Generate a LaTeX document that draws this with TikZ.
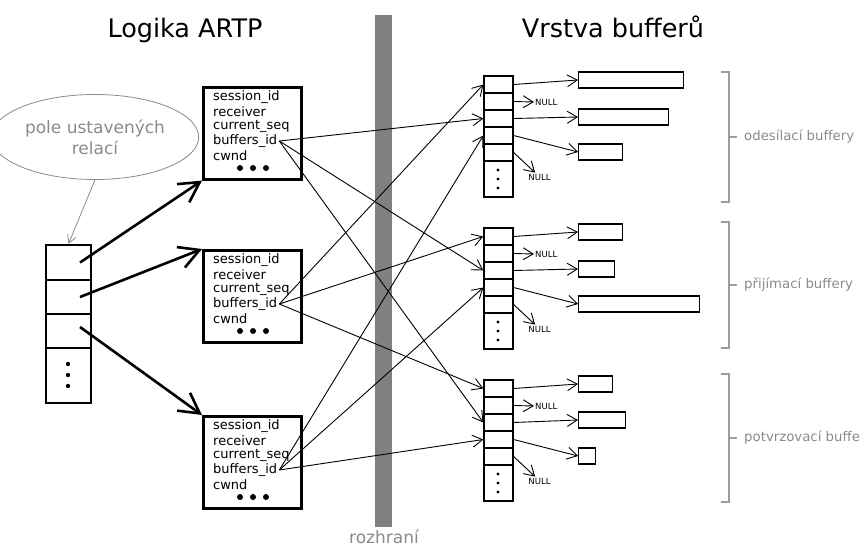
\documentclass[tikz,border=0pt]{standalone}
\usepackage{fontspec}
\setmainfont{DejaVu Sans}
\usetikzlibrary{arrows.meta,shapes.geometric}

\definecolor{bargray}{HTML}{808080}
\definecolor{notegray}{HTML}{8A8A8A}

\tikzset{
  thickcell/.style={draw,line width=2.4pt,minimum width=45pt,inner sep=0pt},
  sessbox/.style={draw,line width=2.6pt,minimum width=98pt,minimum height=92pt,inner sep=0pt},
  field/.style={anchor=west,inner sep=0pt,font=\fontsize{13}{13}\selectfont},
  bufcell/.style={draw,line width=1.3pt,minimum width=29pt,inner sep=0pt},
  datarect/.style={draw,line width=1.2pt,inner sep=0pt,anchor=west},
  nulltxt/.style={inner sep=1pt,font=\fontsize{8.5}{8.5}\selectfont},
  bigarrow/.style={line width=2.6pt,-{Straight Barb[length=20pt,width=22pt,line width=2.6pt]}},
  thinarrow/.style={line width=0.9pt,-{Straight Barb[length=10pt,width=12pt,line width=0.9pt]}},
  grayarrow/.style={draw=notegray,line width=0.8pt,-{Straight Barb[length=8pt,width=9pt,line width=0.8pt]}},
  bracket/.style={draw=notegray!85,line width=1.1pt},
  bracketlabel/.style={anchor=west,text=notegray,inner sep=0pt,font=\fontsize{13.3}{13.3}\selectfont},
  title/.style={anchor=base,inner sep=0pt,font=\fontsize{25.5}{25.5}\selectfont},
  dotfill/.style={fill=black}
}

\begin{document}
\begin{tikzpicture}[x=1pt,y=-1pt]
\useasboundingbox (0,0) rectangle (859,546);
\clip (0,0) rectangle (859,546);

% headings
\node[title] (hleft) at (185,37) {Logika ARTP};
\node[title] (hright) at (613,37) {Vrstva bufferů};

% interface bar
\fill[bargray] (375,15) rectangle (392,527);
\node[anchor=base,text=notegray,inner sep=0pt,font=\fontsize{17}{17}\selectfont] (iface) at (384,543) {rozhraní};

% note ellipse
\node[ellipse,draw=notegray,line width=0.8pt,minimum width=174pt,minimum height=85pt,
      align=center,text=notegray,font=\fontsize{17}{21}\selectfont] (note) at (95,137)
      {pole ustavených\\relací};

% array of established sessions
\node[thickcell,minimum height=35pt] (c1) at (68.5,262.5) {};
\node[thickcell,minimum height=34pt] (c2) at (68.5,297) {};
\node[thickcell,minimum height=34pt] (c3) at (68.5,331) {};
\node[thickcell,minimum height=55pt] (c4) at (68.5,375.5) {};
\foreach \yy in {364,375,386} \fill[dotfill] (68,\yy) circle (2.2);

\draw[grayarrow] (note.south) -- (c1.north);

% session records
\foreach \i/\top in {1/86,2/249,3/415} {
  \node[sessbox,anchor=north west] (b\i) at (202,\top) {};
  \node[field] (b\i sid) at (213,\top+11.5) {session\_id};
  \node[field] (b\i rcv) at (213,\top+26) {receiver};
  \node[field] (b\i seq) at (213,\top+40.5) {current\_seq};
  \node[field] (b\i buf) at (213,\top+55) {buffers\_id};
  \node[field] (b\i cw) at (213,\top+69.5) {cwnd};
  \foreach \xx in {240,253,266} \fill[dotfill] (\xx,\top+82) circle (3);
}

\draw[bigarrow] ([xshift=11.5pt]c1.center) -- (b1.south west);
\draw[bigarrow] ([xshift=11.5pt]c2.center) -- (b2.north west);
\draw[bigarrow] ([shift={(11.5,-4)}]c3.center) -- (b3.north west);

% buffer arrays
\foreach \k/\top in {1/76,2/228,3/380} {
  \foreach \j in {1,...,5} {
    \node[bufcell,minimum height=17pt] (a\k c\j) at (498.5,\top+17*\j-8.5) {};
  }
  \node[bufcell,minimum height=36pt] (a\k c6) at (498.5,\top+85+18) {};
  \foreach \dd in {-9,0,9} \fill[dotfill] (498,\top+103+\dd) circle (1.7);
  \node[nulltxt,anchor=west] (a\k n1) at (534,\top+26) {NULL};
  \node[nulltxt] (a\k n2) at (539.5,\top+101) {NULL};
  \draw[thinarrow] (a\k c2.east) -- (a\k n1.west);
  \draw[thinarrow] (a\k c5.east) -- (a\k n2.135);
}

% data buffers
\node[datarect,minimum width=105pt,minimum height=16pt] (d11) at (578,80) {};
\node[datarect,minimum width=90pt,minimum height=16pt] (d12) at (578,117) {};
\node[datarect,minimum width=44pt,minimum height=16pt] (d13) at (578,152) {};
\node[datarect,minimum width=44pt,minimum height=16pt] (d21) at (578,232) {};
\node[datarect,minimum width=36pt,minimum height=16pt] (d22) at (578,269) {};
\node[datarect,minimum width=121pt,minimum height=16pt] (d23) at (578,304) {};
\node[datarect,minimum width=34pt,minimum height=16pt] (d31) at (578,384) {};
\node[datarect,minimum width=47pt,minimum height=16pt] (d32) at (578,420) {};
\node[datarect,minimum width=17pt,minimum height=16pt] (d33) at (578,456) {};

\foreach \k in {1,2,3} {
  \draw[thinarrow] (a\k c1.east) -- (d\k 1.west);
  \draw[thinarrow] (a\k c3.east) -- (d\k 2.west);
  \draw[thinarrow] (a\k c4.east) -- (d\k 3.west);
}

% references from the session records into the buffer layer
\draw[thinarrow] ([xshift=2pt]b1buf.east) -- (a1c3.west);
\draw[thinarrow] ([xshift=2pt]b1buf.east) -- (a2c3.west);
\draw[thinarrow] ([xshift=2pt]b1buf.east) -- (a3c3.west);
\draw[thinarrow] ([xshift=2pt]b2buf.east) -- (a1c1.west);
\draw[thinarrow] ([xshift=2pt]b2buf.east) -- (a2c1.west);
\draw[thinarrow] ([xshift=2pt]b2buf.east) -- (a3c1.west);
\draw[thinarrow] ([xshift=2pt]b3buf.east) -- (a1c4.west);
\draw[thinarrow] ([xshift=2pt]b3buf.east) -- (a2c4.west);
\draw[thinarrow] ([xshift=2pt]b3buf.east) -- (a3c4.west);

% group brackets
\foreach \g/\top/\bot/\lab in {1/72/202/{odesílací buffery},2/222/348/{přijímací buffery},3/374/502/{potvrzovací buffery}} {
  \draw[bracket] (721,\top) -- (729,\top) -- (729,\bot) -- (721,\bot);
  \draw[bracket] (729,{(\top+\bot)/2}) -- (737,{(\top+\bot)/2});
  \node[bracketlabel] (g\g) at (744,{(\top+\bot)/2}) {\lab};
}
\end{tikzpicture}
\end{document}
